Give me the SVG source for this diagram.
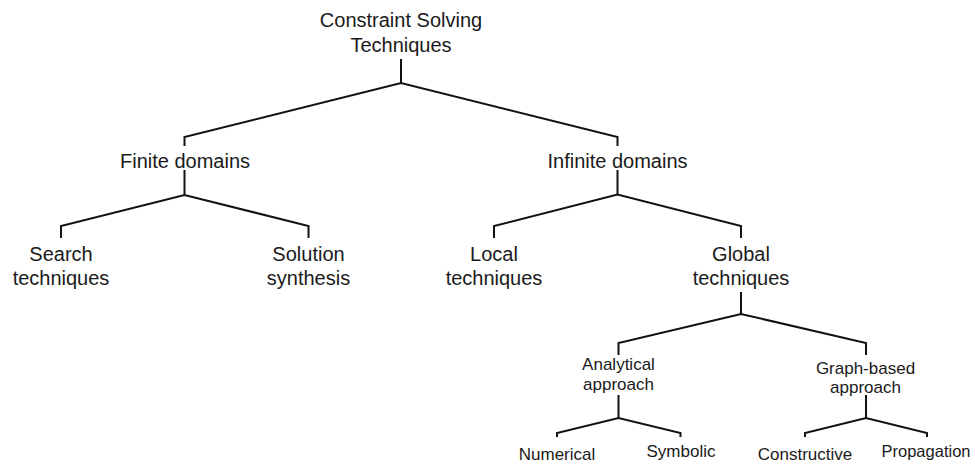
<svg xmlns="http://www.w3.org/2000/svg" width="975" height="464" viewBox="0 0 975 464">
<style>
  .t { font-family: "Liberation Sans", Arial, sans-serif; font-size: 20px; fill: #1a1a1a; text-anchor: middle; }
  .s { font-family: "Liberation Sans", Arial, sans-serif; font-size: 17px; fill: #1a1a1a; text-anchor: middle; }
  .c { fill: none; stroke: #111; stroke-width: 2; stroke-linejoin: miter; }
</style>
<rect width="975" height="464" fill="#fff"/>
<g id="connectors">
  <path class="c" d="M401,59 V83"/>
  <path class="c" d="M184.5,146 V137 L401,83 L617.5,137 V146"/>
  <path class="c" d="M184.5,170 V195"/>
  <path class="c" d="M61,238 V226 L184.5,195 L308.5,226 V238"/>
  <path class="c" d="M617.5,170 V194.5"/>
  <path class="c" d="M494,238 V226 L617.5,194.5 L741,226 V238"/>
  <path class="c" d="M741,292 V314"/>
  <path class="c" d="M618.5,355 V343 L741,314 L866,343 V355"/>
  <path class="c" d="M618.5,395 V418"/>
  <path class="c" d="M557,437 V433 L618.5,418 L680.5,433 V437"/>
  <path class="c" d="M866,395 V418"/>
  <path class="c" d="M805,437 V433 L866,418 L927,433 V437"/>
</g>
<g id="root"><text class="t" x="401" y="27">Constraint Solving</text><text class="t" x="401" y="52">Techniques</text></g>
<g id="finite"><text class="t" x="185" y="168">Finite domains</text></g>
<g id="infinite"><text class="t" x="617.5" y="168">Infinite domains</text></g>
<g id="search"><text class="t" x="61" y="261">Search</text><text class="t" x="61" y="285">techniques</text></g>
<g id="solution"><text class="t" x="308.5" y="261">Solution</text><text class="t" x="308.5" y="285">synthesis</text></g>
<g id="local"><text class="t" x="494" y="261">Local</text><text class="t" x="494" y="285">techniques</text></g>
<g id="global"><text class="t" x="741" y="261">Global</text><text class="t" x="741" y="285">techniques</text></g>
<g id="analytical"><text class="s" x="618.5" y="370">Analytical</text><text class="s" x="618.5" y="390">approach</text></g>
<g id="graph"><text class="s" x="865.5" y="373.5">Graph-based</text><text class="s" x="865.5" y="393">approach</text></g>
<g id="numerical"><text class="s" x="557" y="460">Numerical</text></g>
<g id="symbolic"><text class="s" x="681" y="457">Symbolic</text></g>
<g id="constructive"><text class="s" x="805" y="460">Constructive</text></g>
<g id="propagation"><text class="s" x="926" y="457" style="font-size:16.5px">Propagation</text></g>
</svg>
